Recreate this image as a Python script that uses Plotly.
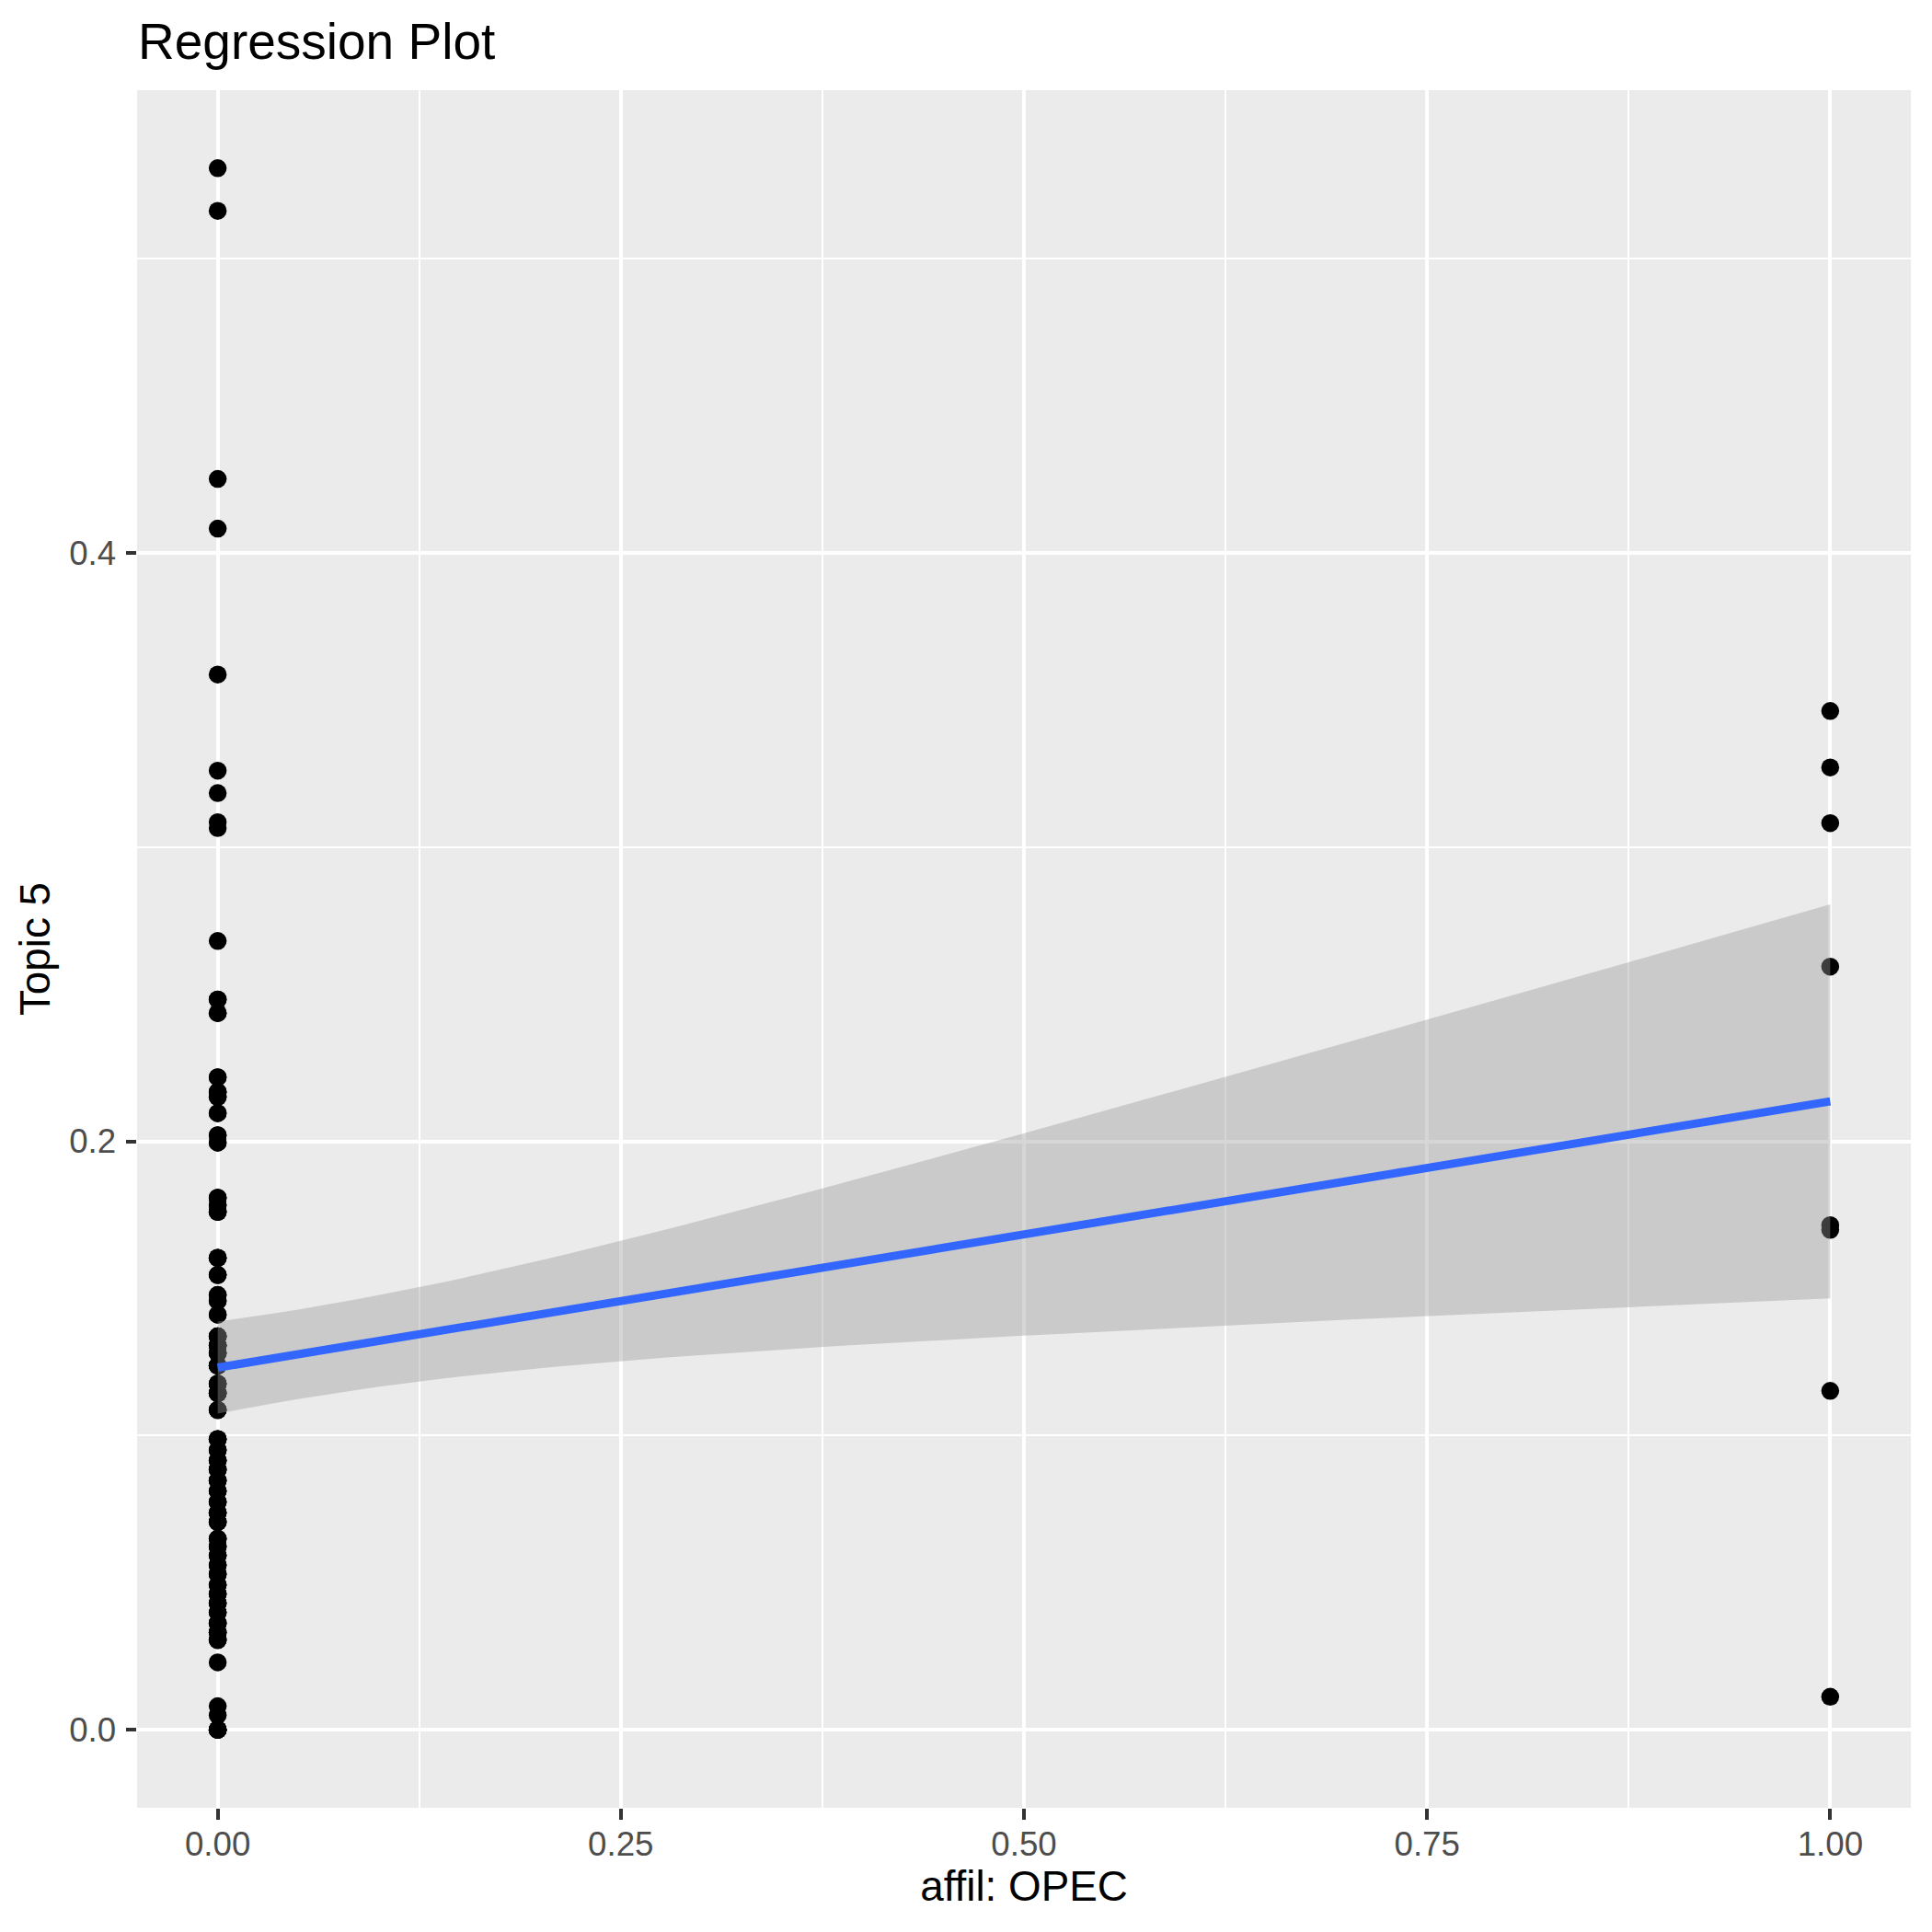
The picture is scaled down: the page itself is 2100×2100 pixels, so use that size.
import numpy as np
import plotly.graph_objects as go

# ---- data ----
# Topic 5 proportion for documents with affil: OPEC == 0
topic5_opec0 = [
    0.5308, 0.5163, 0.4252, 0.4083, 0.3587, 0.3260, 0.3184, 0.3085, 0.3065, 0.2681,
    0.2482, 0.2482, 0.2436, 0.2436, 0.2218, 0.2218, 0.2168, 0.2168, 0.2168, 0.2151,
    0.2151, 0.2096, 0.2096, 0.2021, 0.2021, 0.1996, 0.1996,
    0.1808, 0.1808, 0.1808, 0.1783, 0.1783, 0.1760, 0.1760, 0.1760, 0.1604, 0.1604,
    0.1604, 0.1546, 0.1546, 0.1546, 0.1478, 0.1478, 0.1458, 0.1458, 0.1411, 0.1411,
    0.1337, 0.1337, 0.1337, 0.1337, 0.1306, 0.1306, 0.1306, 0.1306, 0.1280, 0.1280,
    0.1280, 0.1280, 0.1238, 0.1238, 0.1238, 0.1238, 0.1176, 0.1176, 0.1176, 0.1176,
    0.1144, 0.1144, 0.1144, 0.1144, 0.1087, 0.1087, 0.1087,
    0.0988, 0.0988, 0.0988, 0.0951, 0.0951, 0.0951, 0.0915, 0.0915, 0.0915, 0.0884,
    0.0884, 0.0884, 0.0847, 0.0847, 0.0847, 0.0811, 0.0811, 0.0811, 0.0774, 0.0774,
    0.0774, 0.0738, 0.0738, 0.0738, 0.0706, 0.0706, 0.0706, 0.0649, 0.0649, 0.0649,
    0.0623, 0.0623, 0.0623, 0.0592, 0.0592, 0.0592, 0.0560, 0.0560, 0.0560, 0.0529,
    0.0529, 0.0529, 0.0492, 0.0492, 0.0492, 0.0461, 0.0461, 0.0461, 0.0430, 0.0430,
    0.0430, 0.0398, 0.0398, 0.0398, 0.0362, 0.0362, 0.0362, 0.0331, 0.0331, 0.0331,
    0.0305, 0.0305, 0.0305,
    0.0229, 0.0080, 0.0049, 0.0, 0.0, 0.0, 0.0, 0.0, 0.0, 0.0,
]
# Topic 5 proportion for documents with affil: OPEC == 1
topic5_opec1 = [0.3463, 0.3271, 0.3082, 0.2594, 0.1715, 0.1699, 0.1152, 0.0112]

x_ticks = [0.0, 0.25, 0.5, 0.75, 1.0]
y_ticks = [0.0, 0.2, 0.4]

title_text = "Regression Plot"
x_title = "affil: OPEC"
y_title = "Topic 5"

# ---- linear model (as geom_smooth(method = "lm")) ----
x = np.concatenate([np.zeros(len(topic5_opec0)), np.ones(len(topic5_opec1))])
y = np.concatenate([np.array(topic5_opec0), np.array(topic5_opec1)])
n = len(x)
xbar = x.mean()
sxx = ((x - xbar) ** 2).sum()
slope = ((x - xbar) * (y - y.mean())).sum() / sxx
intercept = y.mean() - slope * xbar
resid = y - (intercept + slope * x)
df = n - 2
s = np.sqrt((resid ** 2).sum() / df)
z = 1.959964
tq = z + (z ** 3 + z) / (4 * df) + (5 * z ** 5 + 16 * z ** 3 + 3 * z) / (96 * df ** 2)

xg = np.linspace(x.min(), x.max(), 80)
fit = intercept + slope * xg
se = s * np.sqrt(1.0 / n + (xg - xbar) ** 2 / sxx)
lo = fit - tq * se
hi = fit + tq * se

# axis ranges with ggplot's 5% expansion
xr = x.max() - x.min()
yr = y.max() - y.min()
x_range = [x.min() - 0.05 * xr, x.max() + 0.05 * xr]
y_range = [y.min() - 0.05 * yr, y.max() + 0.05 * yr]

fig = go.Figure()
fig.add_trace(go.Scatter(
    x=x, y=y, mode="markers",
    marker=dict(color="black", size=19.5, line=dict(width=0)),
    showlegend=False, hoverinfo="x+y",
))
fig.add_trace(go.Scatter(
    x=np.concatenate([xg, xg[::-1]]),
    y=np.concatenate([hi, lo[::-1]]),
    mode="lines", fill="toself",
    fillcolor="rgba(153,153,153,0.4)",
    line=dict(width=0, color="rgba(0,0,0,0)"),
    showlegend=False, hoverinfo="skip",
))
fig.add_trace(go.Scatter(
    x=xg, y=fit, mode="lines",
    line=dict(color="#3366FF", width=8.9),
    showlegend=False,
))

font_family = "Liberation Sans, Arial, Helvetica, sans-serif"
tick_font = dict(family=font_family, size=36.7, color="#4D4D4D")
axis_title_font = dict(family=font_family, size=45.8, color="black")

common_axis = dict(
    showgrid=True, gridcolor="white", gridwidth=4.4,
    zeroline=False, showline=False, automargin=False,
    ticks="outside", ticklen=11.5, tickwidth=4.4, tickcolor="#333333",
    tickfont=tick_font,
)

fig.update_xaxes(
    range=x_range, tickvals=x_ticks, ticktext=[f"{v:.2f}" for v in x_ticks],
    minor=dict(tickvals=[-0.125, 0.125, 0.375, 0.625, 0.875, 1.125],
               showgrid=True, gridcolor="white", gridwidth=2.2, ticks=""),
    ticklabelstandoff=-5,
    title=dict(text=x_title, font=axis_title_font, standoff=6),
    **common_axis,
)
fig.update_yaxes(
    range=y_range, tickvals=y_ticks, ticktext=[f"{v:.1f}" for v in y_ticks],
    minor=dict(tickvals=[0.1, 0.3, 0.5],
               showgrid=True, gridcolor="white", gridwidth=2.2, ticks=""),
    ticklabelstandoff=3,
    title=dict(text=y_title, font=axis_title_font, standoff=6),
    **common_axis,
)

fig.update_layout(
    width=2100, height=2100,
    margin=dict(l=149, r=23, t=98, b=135),
    paper_bgcolor="white", plot_bgcolor="#EBEBEB",
    title=dict(text=title_text, font=dict(family=font_family, size=55, color="black"),
               x=150 / 2100, xref="container", xanchor="left",
               y=1 - 45 / 2100, yref="container", yanchor="middle"),
    showlegend=False,
)

fig.write_html(
    "out.html",
    config={"displayModeBar": False},
    post_script="document.body.style.margin='0';document.body.style.padding='0';",
)
